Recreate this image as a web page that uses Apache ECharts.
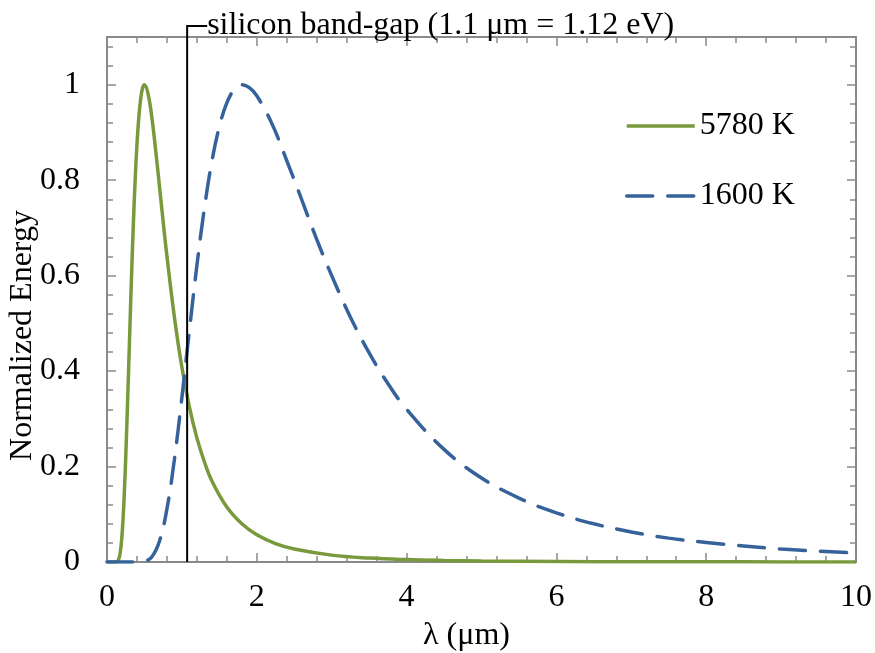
<!DOCTYPE html>
<html>
<head>
<meta charset="utf-8">
<script src="https://cdn.jsdelivr.net/npm/echarts@6/dist/echarts.min.js"></script>
<style>
html, body { margin: 0; padding: 0; background: #fff; }
#planckChart { width: 875px; height: 653px; }
</style>
</head>
<body>
<div id="planckChart"></div>
<script>
// 5780 K 曲线
var lambda5780 = [0, 0.1, 0.12, 0.15, 0.175, 0.2, 0.225, 0.25, 0.275, 0.3,
    0.325, 0.35, 0.375, 0.4, 0.425, 0.45, 0.475, 0.5, 0.55, 0.6,
    0.65, 0.7, 0.75, 0.8, 0.9, 1.0, 1.1, 1.2, 1.3, 1.4,
    1.6, 1.8, 2.0, 2.25, 2.5, 3, 3.5, 4, 4.5, 5,
    6, 7, 8, 9, 10];
var energy5780 = [0, 0, 0.0002, 0.0037, 0.018, 0.055, 0.123, 0.219, 0.336, 0.462,
    0.587, 0.700, 0.797, 0.875, 0.932, 0.971, 0.993, 1.0, 0.980, 0.930,
    0.862, 0.788, 0.713, 0.641, 0.513, 0.408, 0.325, 0.260, 0.210, 0.170,
    0.115, 0.080, 0.057, 0.0386, 0.0271, 0.0144, 0.0083, 0.0051, 0.0033, 0.0022,
    0.0011, 0.0006, 0.0004, 0.0002, 0.0002];

// 1600 K 曲线
var lambda1600 = [0, 0.2, 0.4, 0.5, 0.6, 0.7, 0.8, 0.9, 1.0, 1.1,
    1.2, 1.3, 1.4, 1.5, 1.6, 1.7, 1.8, 1.9, 2.0, 2.2,
    2.4, 2.6, 2.8, 3.0, 3.25, 3.5, 3.75, 4, 4.5, 5,
    5.5, 6, 6.5, 7, 7.5, 8, 9, 10];
var energy1600 = [0, 0, 0, 0.0014, 0.011, 0.0435, 0.111, 0.215, 0.345, 0.485,
    0.621, 0.741, 0.839, 0.912, 0.962, 0.990, 1.0, 0.994, 0.977, 0.919,
    0.841, 0.759, 0.676, 0.600, 0.513, 0.438, 0.374, 0.320, 0.236, 0.176,
    0.134, 0.103, 0.080, 0.063, 0.050, 0.041, 0.027, 0.019];

var seriesNames = ['5780 K', '1600 K'];
var bandGap = 1.07;
var bandGapLabel = 'silicon band-gap (1.1 \u03bcm = 1.12 eV)';

var fontName = 'Liberation Serif';
var fontSize = 32;
var frameColor = '#8a8a8a';
var green = '#789a3c';
var blue = '#36629b';

function zip(xs, ys) {
    var out = [];
    for (var i = 0; i < xs.length; i++) {
        out.push([xs[i], ys[i]]);
    }
    return out;
}

// 坐标轴: 主刻度 + 次刻度, 四边都有, 刻度朝内 (负长度)
function xAxisDef(position, interval, tickLen, main) {
    return {
        type: 'value', position: position, min: 0, max: 10, interval: interval,
        name: main ? '\u03bb (\u03bcm)' : '',
        nameLocation: 'middle', nameGap: 58,
        nameTextStyle: { fontFamily: fontName, fontSize: fontSize, color: '#000', padding: [0, 30, 0, 0] },
        axisLine: { show: tickLen > 7, onZero: false, lineStyle: { color: frameColor, width: 2 } },
        axisTick: { show: true, inside: false, length: -tickLen, lineStyle: { color: frameColor, width: 1.5 } },
        axisLabel: { show: main, margin: 20, fontFamily: fontName, fontSize: fontSize, color: '#000' },
        splitLine: { show: false }
    };
}

function yAxisDef(position, interval, tickLen, main) {
    return {
        type: 'value', position: position, min: 0, max: 1.1, interval: interval,
        name: main ? 'Normalized Energy' : '',
        nameLocation: 'middle', nameGap: 68, nameMoveOverlap: false,
        nameTextStyle: { fontFamily: fontName, fontSize: fontSize, color: '#000', padding: [0, 72, 0, 0] },
        axisLine: { show: tickLen > 7, onZero: false, lineStyle: { color: frameColor, width: 2 } },
        axisTick: { show: true, inside: false, length: -tickLen, lineStyle: { color: frameColor, width: 1.5 } },
        axisLabel: {
            show: main, margin: 27, showMaxLabel: false,
            fontFamily: fontName, fontSize: fontSize, color: '#000'
        },
        splitLine: { show: false }
    };
}

var myChart = echarts.init(document.getElementById('planckChart'), null, { renderer: 'canvas' });

var option = {
    animation: false,
    backgroundColor: '#fff',
    grid: { left: 107, right: 19, top: 37, bottom: 91, containLabel: false, outerBoundsMode: 'none' },
    legend: {
        orient: 'vertical', left: 620, top: 105,
        itemWidth: 68, itemHeight: 34, itemGap: 38,
        itemStyle: { opacity: 0 },
        lineStyle: { width: 3.5 },
        textStyle: { fontFamily: fontName, fontSize: fontSize, color: '#000' },
        data: seriesNames
    },
    xAxis: [
        xAxisDef('bottom', 2, 9, true),
        xAxisDef('bottom', 0.4, 6, false),
        xAxisDef('top', 2, 9, false),
        xAxisDef('top', 0.4, 6, false)
    ],
    yAxis: [
        yAxisDef('left', 0.2, 9, true),
        yAxisDef('left', 0.04, 6, false),
        yAxisDef('right', 0.2, 9, false),
        yAxisDef('right', 0.04, 6, false)
    ],
    series: [
        {
            name: seriesNames[0], type: 'line', xAxisIndex: 0, yAxisIndex: 0,
            data: zip(lambda5780, energy5780),
            showSymbol: false, symbol: 'none', smooth: 0.4,
            lineStyle: { color: green, width: 3.5 },
            itemStyle: { color: green }
        },
        {
            name: seriesNames[1], type: 'line', xAxisIndex: 0, yAxisIndex: 0,
            data: zip(lambda1600, energy1600),
            showSymbol: false, symbol: 'none', smooth: 0.4,
            lineStyle: { color: blue, width: 3.5, type: [26, 15], cap: 'round' },
            itemStyle: { color: blue }
        }
    ]
};
myChart.setOption(option);

// 硅带隙标注线
var gx = myChart.convertToPixel({ xAxisIndex: 0 }, bandGap);
var gy0 = myChart.convertToPixel({ yAxisIndex: 0 }, 0);
var gyTop = 26;
myChart.setOption({
    graphic: [
        {
            type: 'polyline', z: 100,
            shape: { points: [[gx, gy0], [gx, gyTop], [gx + 20, gyTop]] },
            style: { stroke: '#000', lineWidth: 2, fill: null }
        },
        {
            type: 'text', z: 100, x: gx + 20, y: gyTop,
            style: {
                text: bandGapLabel, fill: '#000',
                font: fontSize + 'px "' + fontName + '"',
                textAlign: 'left', textVerticalAlign: 'middle'
            }
        }
    ]
});
</script>
</body>
</html>
